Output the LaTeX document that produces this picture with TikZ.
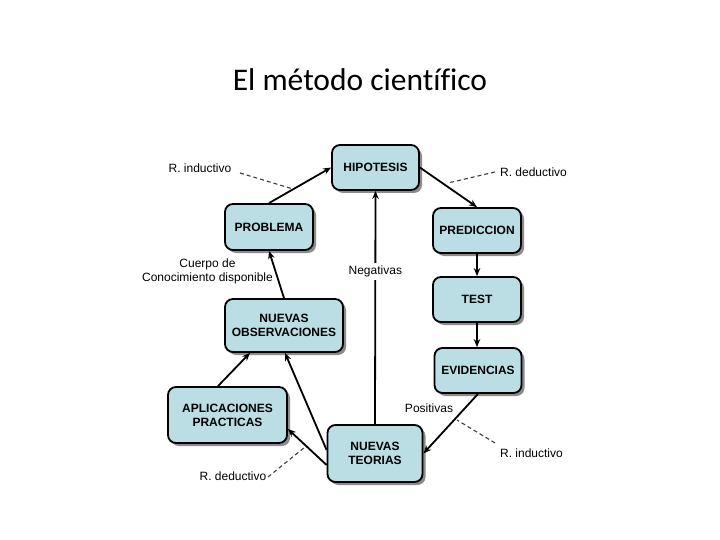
\documentclass[tikz,border=0pt]{standalone}
\usepackage{fontspec}
\setmainfont{Liberation Sans}
\newfontfamily\titlefont[Ligatures=NoCommon]{Carlito}
\usetikzlibrary{arrows.meta,shadows}
\definecolor{boxfill}{RGB}{186,222,228}
\definecolor{dashgray}{RGB}{60,60,60}
\tikzset{
  stepbox/.style={draw=black, line width=1.8pt, rounded corners=8pt, fill=boxfill,
    font=\fontsize{12}{14}\selectfont\bfseries, align=center, inner sep=0pt,
    drop shadow={shadow xshift=3pt, shadow yshift=-3pt, fill=black!45, opacity=1}},
  arr/.style={line width=1.8pt, -{Stealth[length=8pt,width=6.5pt]}},
  lbl/.style={font=\fontsize{12}{14}\selectfont, inner sep=1pt, align=center},
  dashln/.style={draw=dashgray, line width=1.1pt, dash pattern=on 4pt off 3pt}
}
\begin{document}
\begin{tikzpicture}[x=1pt,y=-1pt]
\useasboundingbox (0,0) rectangle (720,540);
\fill[white] (0,0) rectangle (720,540);
\node (title) at (360,80) {\titlefont\fontsize{31.5}{35}\selectfont El método científico};
\node[stepbox, minimum width=87pt, minimum height=45pt] (hip) at (375.5,167.5) {HIPOTESIS};
\node[stepbox, minimum width=88pt, minimum height=46pt] (pro) at (269,227) {PROBLEMA};
\node[stepbox, minimum width=88pt, minimum height=45pt] (pred) at (477,230.5) {PREDICCION};
\node[stepbox, minimum width=88pt, minimum height=45pt] (test) at (477,299.5) {TEST};
\node[stepbox, minimum width=87pt, minimum height=45pt] (evid) at (478,370.5) {EVIDENCIAS};
\node[stepbox, minimum width=118pt, minimum height=53pt] (obs) at (284,325.5) {NUEVAS\\OBSERVACIONES};
\node[stepbox, minimum width=119pt, minimum height=56pt] (apl) at (227.5,415) {APLICACIONES\\PRACTICAS};
\node[stepbox, minimum width=95pt, minimum height=57pt] (teo) at (375,453.5) {NUEVAS\\TEORIAS};

\draw[arr] (pro.north) -- (hip.west);
\draw[arr] (hip.east) -- (pred.north);
\draw[arr] (pred.south) -- (test.north);
\draw[arr] (test.south) -- (test.south |- evid.north);
\draw[arr] (evid.south) -- (teo.east);
\draw[arr] (teo.north) -- node[pos=0.655, lbl, fill=white, inner sep=3pt] (neg) {Negativas} (hip.south);
\draw[arr] ([yshift=3.5pt]teo.west) -- ([xshift=1pt]obs.south);
\draw[arr] ([yshift=-11.5pt]teo.west) -- ([yshift=-14pt]apl.east);
\draw[arr] ([xshift=-9.5pt]apl.north) -- ([xshift=-34pt]obs.south);
\draw[arr] (obs.north) -- (pro.south);

\node[lbl] (ri1) at (200,168) {R. inductivo};
\node[lbl] (rd1) at (533.5,172) {R. deductivo};
\node[lbl] (ri2) at (531.5,453) {R. inductivo};
\node[lbl] (rd2) at (233,476) {R. deductivo};
\node[lbl] (pos) at (429,408) {Positivas};
\node[lbl] (cue) at (207.5,271) {Cuerpo de\\Conocimiento disponible};

\coordinate (a1) at (240,173);
\coordinate (b1) at (293,189);
\coordinate (a2) at (495,172);
\coordinate (b2) at (448,183);
\coordinate (a3) at (495,443);
\coordinate (b3) at (457,420);
\coordinate (a4) at (268,477);
\coordinate (b4) at (305,447);
\draw[dashln] (a1) -- (b1);
\draw[dashln] (a2) -- (b2);
\draw[dashln] (a3) -- (b3);
\draw[dashln] (a4) -- (b4);
\end{tikzpicture}
\end{document}
